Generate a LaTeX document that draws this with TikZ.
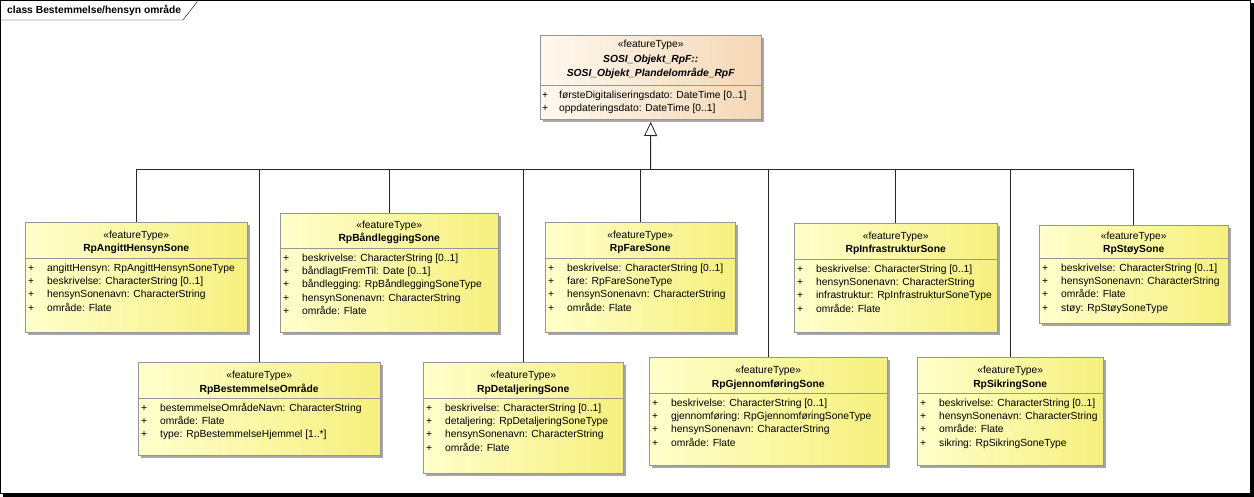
\documentclass[tikz,border=0pt]{standalone}
\usepackage{fontspec}
\setmainfont{Liberation Sans}
\usetikzlibrary{arrows.meta,shadows}

\definecolor{featlight}{RGB}{255,255,204}
\definecolor{featdark}{RGB}{246,240,126}
\definecolor{superlight}{RGB}{254,248,238}
\definecolor{superdark}{RGB}{245,216,182}
\definecolor{boxline}{RGB}{150,150,150}
\definecolor{linegray}{RGB}{40,40,40}

\newcommand{\umlfont}{\fontsize{10.3}{13.4}\selectfont}
\newcommand{\attrline}[1]{\makebox[19pt][l]{+}#1\strut}

\tikzstyle {classbox} = [draw=boxline, anchor=north west, inner sep=0pt, left color=featlight, right color=featdark, drop shadow={shadow xshift=3pt, shadow yshift=-3pt, fill=black!35, opacity=1}]
\tikzstyle {superbox} = [classbox, left color=superlight, right color=superdark]
\tikzstyle {stereo} = [anchor=base, inner sep=0pt, font=\umlfont]
\tikzstyle {cname} = [anchor=base, inner sep=0pt, font=\umlfont\bfseries]
\tikzstyle {attrs} = [anchor=north west, inner sep=0pt, align=left, font=\umlfont, xshift=3pt, yshift=-3.6pt]
\tikzstyle {sepline} = [draw=boxline]
\tikzstyle {genline} = [draw=linegray, line width=1pt]

\begin{document}
\begin{tikzpicture}[x=1pt, y=-1pt]
    \useasboundingbox (0,0) rectangle (1254,497);
    % diagram frame
    \draw (0.5,0.5) rectangle (1250.5,493.5);
    \fill (1250.5,3) rectangle (1253.5,496.5);
    \fill (3,493.5) rectangle (1253.5,496.5);
    \node [anchor=base west, inner sep=0pt, font=\umlfont\bfseries] (diagtitle) at (7,14) {class Bestemmelse/hensyn område};
    \draw (0.5,20) -- (183,20) -- (197,2) -- (197,0.5);

    % super class
    \node [superbox, minimum width=221pt, minimum height=84pt] (plandel) at (540,35) {};
    \node [stereo] at ([yshift=-13pt]plandel.north) {«featureType»};
    \node [cname] at ([yshift=-27.5pt]plandel.north) {\itshape SOSI\_Objekt\_RpF::};
    \node [cname] at ([yshift=-41.5pt]plandel.north) {\itshape SOSI\_Objekt\_Plandelområde\_RpF};
    \draw [sepline] ([yshift=-50pt]plandel.north west) -- ([yshift=-50pt]plandel.north east);
    \node [attrs, xshift=-1pt] at ([yshift=-50pt]plandel.north west) {%
        \makebox[17pt][l]{+}førsteDigitaliseringsdato: DateTime [0..1]\strut\\
        \makebox[17pt][l]{+}oppdateringsdato: DateTime [0..1]\strut};

    % RpAngittHensynSone
    \node [classbox, minimum width=222pt, minimum height=110pt] (angitt) at (25,222) {};
    \node [stereo] at ([yshift=-16.5pt]angitt.north) {«featureType»};
    \node [cname] at ([yshift=-30pt]angitt.north) {RpAngittHensynSone};
    \draw [sepline] ([yshift=-36pt]angitt.north west) -- ([yshift=-36pt]angitt.north east);
    \node [attrs] at ([yshift=-36pt]angitt.north west) {%
        \attrline{angittHensyn: RpAngittHensynSoneType}\\
        \attrline{beskrivelse: CharacterString [0..1]}\\
        \attrline{hensynSonenavn: CharacterString}\\
        \attrline{område: Flate}};

    % RpBåndleggingSone
    \node [classbox, minimum width=218pt, minimum height=119pt] (baand) at (280,213) {};
    \node [stereo] at ([yshift=-16pt]baand.north) {«featureType»};
    \node [cname] at ([yshift=-29pt]baand.north) {RpBåndleggingSone};
    \draw [sepline] ([yshift=-35pt]baand.north west) -- ([yshift=-35pt]baand.north east);
    \node [attrs] at ([yshift=-35pt]baand.north west) {%
        \attrline{beskrivelse: CharacterString [0..1]}\\
        \attrline{båndlagtFremTil: Date [0..1]}\\
        \attrline{båndlegging: RpBåndleggingSoneType}\\
        \attrline{hensynSonenavn: CharacterString}\\
        \attrline{område: Flate}};

    % RpFareSone
    \node [classbox, minimum width=190pt, minimum height=110pt] (fare) at (545,222) {};
    \node [stereo] at ([yshift=-16.5pt]fare.north) {«featureType»};
    \node [cname] at ([yshift=-30pt]fare.north) {RpFareSone};
    \draw [sepline] ([yshift=-36pt]fare.north west) -- ([yshift=-36pt]fare.north east);
    \node [attrs] at ([yshift=-36pt]fare.north west) {%
        \attrline{beskrivelse: CharacterString [0..1]}\\
        \attrline{fare: RpFareSoneType}\\
        \attrline{hensynSonenavn: CharacterString}\\
        \attrline{område: Flate}};

    % RpInfrastrukturSone
    \node [classbox, minimum width=203pt, minimum height=109pt] (infra) at (794,223) {};
    \node [stereo] at ([yshift=-16.5pt]infra.north) {«featureType»};
    \node [cname] at ([yshift=-30pt]infra.north) {RpInfrastrukturSone};
    \draw [sepline] ([yshift=-36pt]infra.north west) -- ([yshift=-36pt]infra.north east);
    \node [attrs] at ([yshift=-36pt]infra.north west) {%
        \attrline{beskrivelse: CharacterString [0..1]}\\
        \attrline{hensynSonenavn: CharacterString}\\
        \attrline{infrastruktur: RpInfrastrukturSoneType}\\
        \attrline{område: Flate}};

    % RpStøySone
    \node [classbox, minimum width=189pt, minimum height=98pt] (stoy) at (1039,225) {};
    \node [stereo] at ([yshift=-15pt]stoy.north) {«featureType»};
    \node [cname] at ([yshift=-27.5pt]stoy.north) {RpStøySone};
    \draw [sepline] ([yshift=-33pt]stoy.north west) -- ([yshift=-33pt]stoy.north east);
    \node [attrs] at ([yshift=-33pt]stoy.north west) {%
        \attrline{beskrivelse: CharacterString [0..1]}\\
        \attrline{hensynSonenavn: CharacterString}\\
        \attrline{område: Flate}\\
        \attrline{støy: RpStøySoneType}};

    % RpBestemmelseOmråde
    \node [classbox, minimum width=242pt, minimum height=93pt] (bestem) at (138,362) {};
    \node [stereo] at ([yshift=-16.5pt]bestem.north) {«featureType»};
    \node [cname] at ([yshift=-30pt]bestem.north) {RpBestemmelseOmråde};
    \draw [sepline] ([yshift=-36pt]bestem.north west) -- ([yshift=-36pt]bestem.north east);
    \node [attrs] at ([yshift=-36pt]bestem.north west) {%
        \attrline{bestemmelseOmrådeNavn: CharacterString}\\
        \attrline{område: Flate}\\
        \attrline{type: RpBestemmelseHjemmel [1..*]}};

    % RpDetaljeringSone
    \node [classbox, minimum width=200pt, minimum height=111pt] (detalj) at (423,362) {};
    \node [stereo] at ([yshift=-16.5pt]detalj.north) {«featureType»};
    \node [cname] at ([yshift=-30pt]detalj.north) {RpDetaljeringSone};
    \draw [sepline] ([yshift=-36pt]detalj.north west) -- ([yshift=-36pt]detalj.north east);
    \node [attrs] at ([yshift=-36pt]detalj.north west) {%
        \attrline{beskrivelse: CharacterString [0..1]}\\
        \attrline{detaljering: RpDetaljeringSoneType}\\
        \attrline{hensynSonenavn: CharacterString}\\
        \attrline{område: Flate}};

    % RpGjennomføringSone
    \node [classbox, minimum width=238pt, minimum height=108pt] (gjenn) at (649,357) {};
    \node [stereo] at ([yshift=-16.5pt]gjenn.north) {«featureType»};
    \node [cname] at ([yshift=-30pt]gjenn.north) {RpGjennomføringSone};
    \draw [sepline] ([yshift=-36pt]gjenn.north west) -- ([yshift=-36pt]gjenn.north east);
    \node [attrs] at ([yshift=-36pt]gjenn.north west) {%
        \attrline{beskrivelse: CharacterString [0..1]}\\
        \attrline{gjennomføring: RpGjennomføringSoneType}\\
        \attrline{hensynSonenavn: CharacterString}\\
        \attrline{område: Flate}};

    % RpSikringSone
    \node [classbox, minimum width=186pt, minimum height=108pt] (sikring) at (917,357) {};
    \node [stereo] at ([yshift=-16.5pt]sikring.north) {«featureType»};
    \node [cname] at ([yshift=-30pt]sikring.north) {RpSikringSone};
    \draw [sepline] ([yshift=-36pt]sikring.north west) -- ([yshift=-36pt]sikring.north east);
    \node [attrs] at ([yshift=-36pt]sikring.north west) {%
        \attrline{beskrivelse: CharacterString [0..1]}\\
        \attrline{hensynSonenavn: CharacterString}\\
        \attrline{område: Flate}\\
        \attrline{sikring: RpSikringSoneType}};

    % generalisations
    \coordinate (bus) at (650.5,170);
    \draw [genline, -{Triangle[open, width=13pt, length=14pt, fill=white, line width=0.8pt]}] (bus) -- (plandel.south |- 0,122);
    \foreach \sub in {angitt, bestem, baand, detalj, fare, gjenn, infra, sikring, stoy}
        \draw [genline] (\sub.north) |- (bus);
\end{tikzpicture}
\end{document}
